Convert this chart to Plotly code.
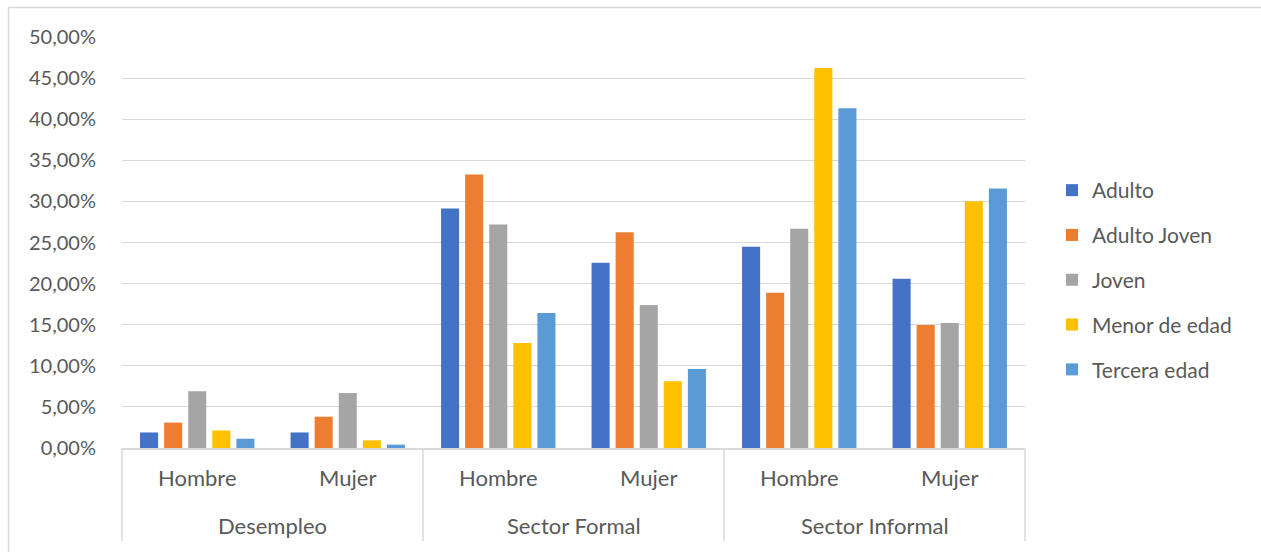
import plotly.graph_objects as go

# Category levels
sectores = ["Desempleo", "Desempleo", "Sector Formal", "Sector Formal",
            "Sector Informal", "Sector Informal"]
sexo = ["Hombre", "Mujer", "Hombre", "Mujer", "Hombre", "Mujer"]
grupos = ["Desempleo", "Sector Formal", "Sector Informal"]

# Share by age group (fractions)
adulto = [0.0189, 0.0189, 0.2913, 0.2254, 0.2449, 0.2059]
adulto_joven = [0.0309, 0.0381, 0.3328, 0.2624, 0.1888, 0.1497]
joven = [0.0689, 0.0669, 0.2718, 0.1741, 0.2667, 0.1521]
menor_de_edad = [0.0213, 0.0093, 0.1277, 0.0813, 0.4623, 0.3003]
tercera_edad = [0.0113, 0.0041, 0.1643, 0.0960, 0.4134, 0.3156]

series = [
    ("Adulto", adulto, "#4472C4"),
    ("Adulto Joven", adulto_joven, "#ED7D31"),
    ("Joven", joven, "#A5A5A5"),
    ("Menor de edad", menor_de_edad, "#FFC000"),
    ("Tercera edad", tercera_edad, "#5B9BD5"),
]

FONT = "Lato, Carlito, Liberation Sans, sans-serif"
TXT = "#595959"
GRID = "#D9D9D9"

fig = go.Figure()
for name, vals, color in series:
    fig.add_trace(go.Bar(
        x=[sectores, sexo], y=vals, name=name, legendgroup=name,
        marker=dict(color=color, line=dict(width=0)),
    ))

# plot area spans x 122..1025, y 37..448 in pixels
L, R, T, B = 122, 1025, 37, 448
W, H = 1261, 552


def px_x(p):
    return (p - L) / (R - L)


def px_y(p):
    return (B - p) / (B - T)


n_cat = len(sexo)
annotations = []
# inner level labels (sex), centred under each category slot
for i, lab in enumerate(sexo):
    annotations.append(dict(
        text=lab, xref="paper", yref="paper", x=(i + 0.5) / n_cat,
        y=px_y(478), xanchor="center", yanchor="middle", showarrow=False,
        font=dict(family=FONT, size=22, color=TXT),
    ))
# outer level labels (sector), centred under each pair
per_group = n_cat // len(grupos)
for j, lab in enumerate(grupos):
    annotations.append(dict(
        text=lab, xref="paper", yref="paper",
        x=(j * per_group + per_group / 2) / n_cat,
        y=px_y(525), xanchor="center", yanchor="middle", showarrow=False,
        font=dict(family=FONT, size=22, color=TXT),
    ))

shapes = [
    # chart frame (left and top edges)
    dict(type="line", xref="paper", yref="paper",
         x0=px_x(8.5), x1=px_x(8.5), y0=px_y(7.5), y1=px_y(560),
         line=dict(color=GRID, width=1.5)),
    dict(type="line", xref="paper", yref="paper",
         x0=px_x(8.5), x1=px_x(1270), y0=px_y(7.5), y1=px_y(7.5),
         line=dict(color=GRID, width=1.5)),
]
# dividers between sector groups, running down through the label rows
for k in range(len(grupos) + 1):
    xp = k * per_group / n_cat
    shapes.append(dict(type="line", xref="paper", yref="paper",
                       x0=xp, x1=xp, y0=0, y1=px_y(541),
                       line=dict(color=GRID, width=1.5)))

fig.update_layout(
    width=W, height=H,
    margin=dict(l=L, r=W - R, t=T, b=H - B, autoexpand=False),
    paper_bgcolor="white", plot_bgcolor="white",
    separators=",.",
    barmode="group", bargap=0.2, bargroupgap=0.25,
    font=dict(family=FONT, size=16, color=TXT),
    showlegend=True,
    legend=dict(
        x=px_x(1052), xanchor="left", y=px_y(170), yanchor="top",
        font=dict(family=FONT, size=21, color=TXT),
        tracegroupgap=14.5, itemwidth=30, bgcolor="rgba(0,0,0,0)",
    ),
    xaxis=dict(
        type="multicategory", showgrid=False, showline=True, linecolor=GRID,
        linewidth=1.5, ticks="", showdividers=False, showticklabels=False,
        automargin=False,
    ),
    yaxis=dict(
        range=[0, 0.5], dtick=0.05, tickformat=".2%", showgrid=True,
        gridcolor=GRID, gridwidth=1.3, zeroline=False, showline=False,
        ticks="", ticklabelstandoff=25,
        tickfont=dict(family=FONT, size=20, color=TXT), automargin=False,
    ),
    annotations=annotations,
    shapes=shapes,
)

fig.write_html("out.html")
